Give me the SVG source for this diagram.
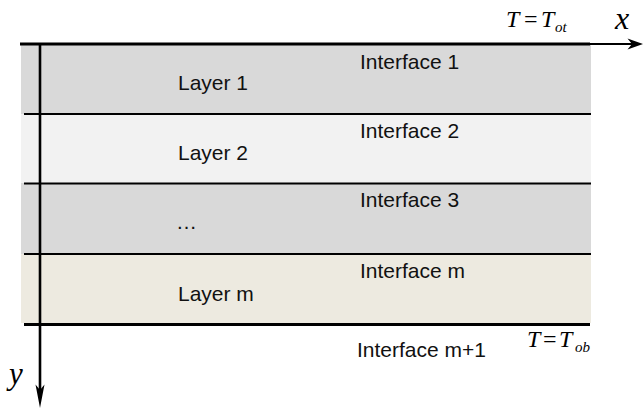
<svg xmlns="http://www.w3.org/2000/svg" width="644" height="410" viewBox="0 0 644 410">
<style>
.lbl{font-family:"Liberation Sans",Arial,sans-serif;font-size:21px;fill:#111}
.math{font-family:"Liberation Serif","Times New Roman",serif;font-style:italic;fill:#000}
.eq{font-family:"Liberation Serif","Times New Roman",serif;fill:#000}
.thin{stroke:#000;stroke-width:1.8;fill:none}
.thick{stroke:#000;stroke-width:3.2;fill:none}
</style>
<rect width="644" height="410" fill="#fff"/>
<g id="layer1">
<rect x="21" y="45" width="570" height="69" fill="#d9d9d9"/>
<text class="lbl" x="178" y="90">Layer 1</text>
</g>
<g id="layer2">
<rect x="21" y="114" width="570" height="69" fill="#f2f2f2"/>
<text class="lbl" x="178" y="160">Layer 2</text>
</g>
<g id="layer3">
<rect x="21" y="183" width="570" height="71" fill="#d9d9d9"/>
<text class="lbl" x="176" y="229">…</text>
</g>
<g id="layerm">
<rect x="21" y="254" width="570" height="69" fill="#edeae0"/>
<text class="lbl" x="178" y="301">Layer m</text>
</g>
<g id="interfaces">
<line class="thin" x1="24" y1="114" x2="591" y2="114"/>
<line class="thin" x1="24" y1="183.5" x2="591" y2="183.5"/>
<line class="thin" x1="24" y1="254" x2="591" y2="254"/>
<line class="thick" x1="24" y1="324.5" x2="590" y2="324.5"/>
<text class="lbl" x="360" y="69">Interface 1</text>
<text class="lbl" x="360" y="138">Interface 2</text>
<text class="lbl" x="360" y="207">Interface 3</text>
<text class="lbl" x="360" y="278">Interface m</text>
<text class="lbl" x="357" y="357">Interface m+1</text>
</g>
<g id="axes">
<line class="thick" x1="20" y1="44" x2="590" y2="44"/>
<line class="thin" x1="590" y1="44" x2="636" y2="44"/>
<path d="M643,44 L627.5,38.5 L632,44 L627.5,49.5 Z" fill="#000"/>
<line x1="40" y1="44" x2="40" y2="398" stroke="#000" stroke-width="2.6"/>
<path d="M40,408 L35.5,384.5 L40,390 L44.5,384.5 Z" fill="#000"/>
</g>
<g id="labels">
<text class="math" x="615" y="29" font-size="32">x</text>
<text class="math" x="9" y="384" font-size="31">y</text>
<text class="math" x="506" y="27" font-size="24">T</text>
<text class="eq" x="524" y="27" font-size="24">=</text>
<text class="math" x="541" y="27" font-size="24">T</text>
<text class="math" x="555" y="32" font-size="15">ot</text>
<text class="math" x="527" y="347" font-size="24">T</text>
<text class="eq" x="543" y="347" font-size="24">=</text>
<text class="math" x="559" y="347" font-size="24">T</text>
<text class="math" x="575" y="352" font-size="15">ob</text>
</g>
</svg>
